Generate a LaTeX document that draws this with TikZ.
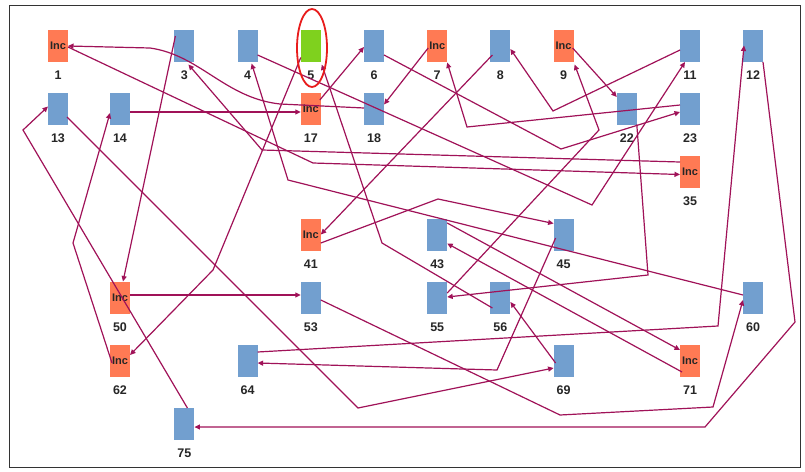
\documentclass[tikz,border=0pt]{standalone}
\usepackage{fontspec}
\setmainfont{Liberation Sans}
\usetikzlibrary{arrows.meta,calc}
\definecolor{bluebox}{RGB}{114,159,207}
\definecolor{incbox}{RGB}{255,122,84}
\definecolor{greenbox}{RGB}{127,209,30}
\definecolor{edgecol}{RGB}{160,18,88}
\definecolor{ringcol}{RGB}{232,28,28}
\begin{document}
\begin{tikzpicture}[x=1pt,y=-1pt,
  box/.style={rectangle,minimum width=20pt,minimum height=32pt,inner sep=0pt,draw=none},
  bl/.style={box,fill=bluebox},
  inc/.style={box,fill=incbox,font=\bfseries\fontsize{11}{11}\selectfont,text=black!85},
  gr/.style={box,fill=greenbox},
  lab/.style={font=\bfseries\fontsize{12.5}{12.5}\selectfont,text=black!85,inner sep=0pt},
  conn/.style={draw=edgecol,line width=1.2pt,-{Triangle[length=5.5pt,width=5pt]},line join=miter}]
\useasboundingbox (0,0) rectangle (805,471);
\fill[white] (0,0) rectangle (805,471);
\draw[black!80,line width=0.9pt] (9,5) rectangle (800,467);
% blue nodes
\foreach \n/\x/\y in {3/184.4/45.5, 4/247.6/45.5, 6/374/45.5, 8/500.4/45.5, 11/690/45.5, 12/753/45.5,
  13/58/108.5, 14/120/108.5, 18/374/108.5, 22/626.8/108.5, 23/690/108.5,
  43/437.2/234.5, 45/563.6/234.5, 53/310.8/297.5, 55/437.2/297.5, 56/500.4/297.5, 60/753/297.5,
  64/247.6/360.5, 69/563.6/360.5, 75/184.4/423.5}
  {\node[bl] (n\n) at (\x,\y) {};
   \node[lab] (l\n) at (\x,\y+30) {\n};}
% Inc nodes
\foreach \n/\x/\y in {1/58/45.5, 7/437.2/45.5, 9/563.6/45.5, 17/310.8/108.5, 35/690/171.5,
  41/310.8/234.5, 50/120/297.5, 62/120/360.5, 71/690/360.5}
  {\node[inc] (n\n) at (\x,\y) {Inc};
   \node[lab] (l\n) at (\x,\y+30) {\n};}
% green node
\node[gr] (n5) at (310.8,45.5) {};
\node[lab] (l5) at (310.8,75.5) {5};
% connectors
\draw[conn] ($(n18)+(-10,-0.5)$) -- (280,104) .. controls (225,98) and (200,55) .. (150,48) -- ($(n1)+(10,0.5)$);
\draw[conn] ($(n1)+(10,1.5)$) -- (313,163) -- ($(n35)+(-10,3)$);
\draw[conn] ($(n35)+(-10,-9.5)$) -- (262,150) -- ($(n3)+(4,19)$);
\draw[conn] ($(n3)+(-9,-9.5)$) -- ($(n50)+(3,-16)$);
\draw[conn] ($(n50)+(10,-2.5)$) -- ($(n53)+(-10,-2.5)$);
\draw[conn] ($(n53)+(10,2.5)$) -- (560,415) -- (713,407) -- ($(n60)+(-10,2.5)$);
\draw[conn] ($(n60)+(-10,-2.5)$) -- (288,180) -- ($(n4)+(4,18)$);
\draw[conn] ($(n4)+(10,9.5)$) -- (592,205) -- ($(n11)+(-5,16.5)$);
\draw[conn] ($(n11)+(-10,4.5)$) -- (553,111) -- ($(n8)+(10,3.5)$);
\draw[conn] ($(n8)+(-8,9.5)$) -- ($(n41)+(10,0)$);
\draw[conn] ($(n41)+(10,8.5)$) -- (438,199) -- ($(n45)+(-10,-11)$);
\draw[conn] ($(n45)+(-8,3.5)$) -- (497,370) -- ($(n64)+(10,2.5)$);
\draw[conn] ($(n64)+(10,-8.5)$) -- (718,326) -- ($(n12)+(-9,0)$);
\draw[conn] ($(n12)+(10,16.5)$) -- (795,322) -- (705,427) -- ($(n75)+(10,3.5)$);
\draw[conn] ($(n75)+(3,-15.5)$) -- (23,130) -- ($(n13)+(-10,-2)$);
\draw[conn] ($(n13)+(9,8.5)$) -- (358,408) -- ($(n69)+(-10,7.5)$);
\draw[conn] ($(n69)+(-8,2.5)$) -- ($(n56)+(10,4.5)$);
\draw[conn] ($(n56)+(-8,10.5)$) -- (382,243) -- ($(n5)+(11,19)$);
\draw[conn] ($(n5)+(-10,12)$) -- (213,270) -- ($(n62)+(10,-5.5)$);
\draw[conn] ($(n62)+(-8,2.5)$) -- (73,243) -- ($(n14)+(-10,4.5)$);
\draw[conn] ($(n14)+(10,3.5)$) -- ($(n17)+(-10,3.5)$);
\draw[conn] ($(n17)+(9,-8.5)$) -- ($(n6)+(-10,1.5)$);
\draw[conn] ($(n6)+(10,9.5)$) -- (561,149) -- ($(n23)+(-10,3.5)$);
\draw[conn] ($(n23)+(-10,-3.5)$) -- (467,127) -- ($(n7)+(10,17)$);
\draw[conn] ($(n7)+(-9,2.5)$) -- ($(n18)+(10,-4)$);
\draw[conn] ($(n9)+(9,2.5)$) -- ($(n22)+(-10,-11.5)$);
\draw[conn] ($(n22)+(10,16)$) -- (648,275) -- ($(n55)+(10,-0.5)$);
\draw[conn] ($(n55)+(10,-4.5)$) -- (599,130) -- ($(n9)+(11,19)$);
\draw[conn] ($(n43)+(10,-11.5)$) -- ($(n71)+(-10,-10.5)$);
\draw[conn] ($(n71)+(-8,11.5)$) -- ($(n43)+(10,9)$);
% red ring around node 5
\draw[ringcol,line width=1.8pt] (312,48) ellipse [x radius=15, y radius=39];
\end{tikzpicture}
\end{document}
